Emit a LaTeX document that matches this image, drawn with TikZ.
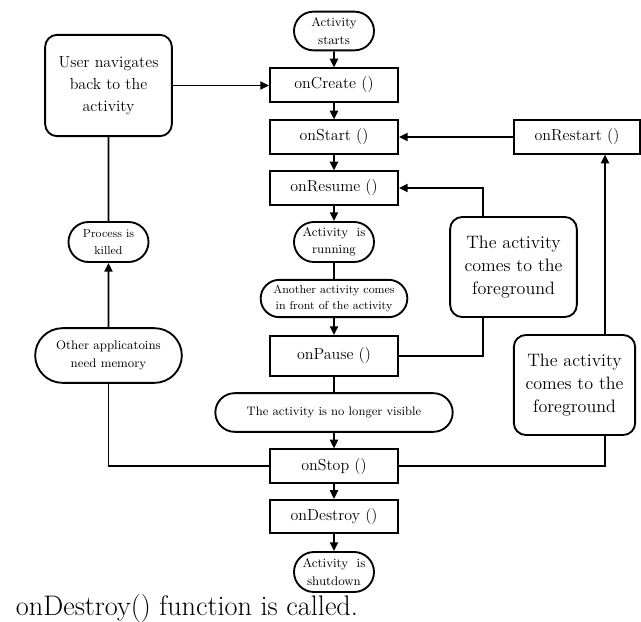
\documentclass[tikz,border=0pt]{standalone}
\usepackage{fontspec}
\usepackage{tikz}
\usetikzlibrary{shapes.misc,arrows.meta}

\begin{document}
\begin{tikzpicture}[x=0.75pt,y=-0.75pt,line width=1.4pt,
    fn/.style={draw,rectangle,minimum width=96pt,minimum height=25pt,inner sep=0pt,
      font=\fontsize{12}{14}\selectfont},
    pill/.style={draw,rounded rectangle,inner sep=1pt,align=center},
    note/.style={draw,rectangle,rounded corners=9pt,minimum width=95pt,minimum height=75pt,
      inner sep=2pt,align=center,font=\fontsize{13.5}{17}\selectfont},
    flow/.style={-{Triangle[length=6.5pt,width=6pt]}}]
  \useasboundingbox (0,0) rectangle (641,621);

  % main column
  \node[pill,minimum width=62pt,minimum height=29pt,font=\fontsize{9.4}{13}\selectfont]
    (starts) at (334,31) {Activity\\starts};
  \node[fn] (create) at (334,85) {onCreate ()};
  \node[fn] (start) at (334,137) {onStart ()};
  \node[fn] (resume) at (334,188) {onResume ()};
  \node[pill,minimum width=62pt,minimum height=30pt,font=\fontsize{9.4}{13}\selectfont]
    (running) at (334,242) {Activity~~is\\running};
  \node[pill,minimum width=112pt,minimum height=28pt,font=\fontsize{8.7}{12}\selectfont]
    (another) at (334,298.5) {Another activity comes\\in front of the activity};
  \node[fn,minimum height=30pt] (pause) at (334,356) {onPause ()};
  \node[pill,minimum width=180pt,minimum height=29pt,font=\fontsize{9.2}{12}\selectfont]
    (novis) at (334,412.5) {The activity is no longer visible};
  \node[fn] (stop) at (334,466) {onStop ()};
  \node[fn] (destroy) at (334,516.5) {onDestroy ()};
  \node[pill,minimum width=62pt,minimum height=30pt,font=\fontsize{9.4}{13}\selectfont]
    (shutdown) at (334,572) {Activity~~is\\shutdown};

  % left side
  \node[note,minimum height=76pt,font=\fontsize{12}{16.5}\selectfont]
    (user) at (108.5,85.5) {User navigates\\back to the\\activity};
  \node[pill,minimum width=62pt,minimum height=30pt,font=\fontsize{8.7}{12.5}\selectfont]
    (killed) at (108.5,242) {Process is\\killed};
  \node[pill,minimum width=112pt,minimum height=41pt,font=\fontsize{9.4}{13}\selectfont]
    (memory) at (108.5,355.5) {Other applicatoins\\need memory};

  % right side
  \node[fn,minimum width=95pt] (restart) at (577,137) {onRestart ()};
  \node[note] (fg1) at (513.5,267) {The activity\\comes to the\\foreground};
  \node[note,minimum width=91pt] (fg2) at (574.5,385) {The activity\\comes to the\\foreground};
  \coordinate (fline) at (483,0);
  \coordinate (rline) at (605,0);

  \node[anchor=base west,inner sep=0pt,font=\fontsize{21.2}{22}\selectfont]
    (caption) at (15,615) {onDestroy() function is called.};

  \draw[flow] (starts) -- (create);
  \draw[flow] (create) -- (start);
  \draw[flow] (start) -- (resume);
  \draw[flow] (resume) -- (running);
  \draw (running) -- (another);
  \draw[flow] (another) -- (pause);
  \draw (pause) -- (novis);
  \draw[flow] (novis) -- (stop);
  \draw[flow] (stop) -- (destroy);
  \draw[flow] (destroy) -- (shutdown);

  \draw[flow] (user.east) -- (user.east -| create.west);
  \draw (user) -- (killed);
  \draw[flow] (memory) -- (killed);
  \draw (memory.south) |- (stop.west);

  \draw (stop.east) -| (rline |- fg2.south);
  \draw[flow] (rline |- fg2.north) -- (rline |- restart.south);
  \draw[flow] (restart) -- (start);
  \draw (pause.east) -| (fline |- fg1.south);
  \draw[flow] (fline |- fg1.north) |- (resume.east);
\end{tikzpicture}
\end{document}
